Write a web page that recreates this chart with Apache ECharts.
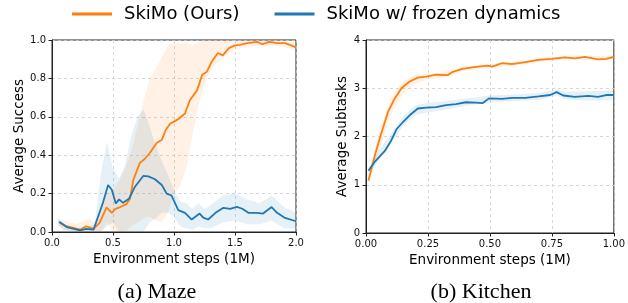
<!DOCTYPE html>
<html lang="en">
<head>
    <meta charset="UTF-8">
    <title>SkiMo ablation</title>
    <script src="https://cdn.jsdelivr.net/npm/echarts@6/dist/echarts.min.js"></script>
    <style>
        html, body { margin: 0; padding: 0; background: #fff; }
        #main { width: 628px; height: 303px; }
    </style>
</head>
<body>
<div id="main"></div>
<script>
    // 图例名称
    const legendNames = ['SkiMo (Ours)', 'SkiMo w/ frozen dynamics'];

    // (a) Maze 曲线
    const mazeOursX = [0.06, 0.12, 0.23, 0.28, 0.34, 0.39, 0.447, 0.49, 0.52, 0.56, 0.61, 0.64, 0.666, 0.72, 0.76, 0.80, 0.858, 0.90, 0.934, 0.97, 1.0, 1.04, 1.09, 1.13, 1.19, 1.23, 1.27, 1.31, 1.36, 1.40, 1.45, 1.50, 1.54, 1.60, 1.68, 1.725, 1.78, 1.845, 1.91, 1.95, 2.0];
    const mazeOursY = [0.048, 0.03, 0.012, 0.03, 0.016, 0.047, 0.128, 0.10, 0.12, 0.13, 0.145, 0.175, 0.27, 0.36, 0.38, 0.41, 0.464, 0.48, 0.534, 0.565, 0.575, 0.59, 0.617, 0.686, 0.739, 0.818, 0.835, 0.888, 0.932, 0.92, 0.958, 0.972, 0.975, 0.984, 0.99, 0.978, 0.99, 0.984, 0.984, 0.975, 0.962];
    const mazeFrozenX = [0.06, 0.12, 0.23, 0.28, 0.34, 0.42, 0.46, 0.49, 0.523, 0.55, 0.583, 0.633, 0.68, 0.748, 0.79, 0.844, 0.90, 0.94, 0.98, 1.035, 1.09, 1.145, 1.21, 1.24, 1.28, 1.34, 1.405, 1.46, 1.515, 1.56, 1.61, 1.68, 1.73, 1.80, 1.845, 1.91, 2.0];
    const mazeFrozenY = [0.053, 0.026, 0.009, 0.016, 0.012, 0.157, 0.245, 0.22, 0.149, 0.17, 0.152, 0.175, 0.236, 0.292, 0.29, 0.275, 0.245, 0.2, 0.19, 0.114, 0.1, 0.065, 0.096, 0.075, 0.065, 0.10, 0.126, 0.121, 0.131, 0.121, 0.10, 0.10, 0.096, 0.13, 0.10, 0.073, 0.056];

    // (a) Maze 阴影区间
    const mazeBandX = [0.05, 0.1, 0.2, 0.3, 0.35, 0.4, 0.45, 0.5, 0.55, 0.6, 0.65, 0.7, 0.75, 0.8, 0.85, 0.9, 0.95, 1.0, 1.05, 1.1, 1.15, 1.2, 1.25, 1.3, 1.4, 1.5, 1.6, 1.7, 1.8, 1.9, 2.0];
    const mazeOursLow = [0.03, 0.0, 0.0, 0.0, 0.0, 0.0, 0.05, 0.0, 0.0, 0.0, 0.03, 0.05, 0.07, 0.08, 0.06, 0.05, 0.1, 0.2, 0.24, 0.33, 0.5, 0.66, 0.77, 0.84, 0.91, 0.95, 0.965, 0.97, 0.97, 0.965, 0.945];
    const mazeOursHigh = [0.07, 0.06, 0.04, 0.07, 0.05, 0.1, 0.2, 0.22, 0.27, 0.33, 0.42, 0.55, 0.68, 0.8, 0.85, 0.91, 0.97, 0.99, 0.98, 0.99, 0.97, 0.99, 1.0, 1.0, 1.0, 0.995, 1.0, 1.0, 1.0, 0.995, 0.98];
    const mazeFrozenLow = [0.04, 0.01, 0.0, 0.0, 0.0, 0.0, 0.03, 0.05, 0.0, 0.0, 0.0, 0.0, 0.0, 0.05, 0.07, 0.1, 0.1, 0.08, 0.03, 0.02, 0.01, 0.03, 0.02, 0.02, 0.05, 0.06, 0.04, 0.04, 0.06, 0.02, 0.02];
    const mazeFrozenHigh = [0.07, 0.04, 0.02, 0.03, 0.04, 0.3, 0.47, 0.33, 0.28, 0.35, 0.5, 0.6, 0.64, 0.55, 0.45, 0.37, 0.3, 0.22, 0.16, 0.15, 0.12, 0.15, 0.12, 0.14, 0.19, 0.2, 0.17, 0.15, 0.19, 0.13, 0.1];

    // (b) Kitchen 曲线
    const kitchenOursX = [0.01, 0.036, 0.063, 0.089, 0.116, 0.143, 0.176, 0.209, 0.243, 0.283, 0.33, 0.35, 0.389, 0.436, 0.489, 0.509, 0.549, 0.589, 0.643, 0.696, 0.749, 0.803, 0.843, 0.883, 0.936, 0.969, 1.0];
    const kitchenOursY = [1.085, 1.61, 2.09, 2.51, 2.79, 3.0, 3.14, 3.22, 3.24, 3.28, 3.27, 3.34, 3.40, 3.44, 3.47, 3.45, 3.52, 3.5, 3.54, 3.59, 3.61, 3.64, 3.62, 3.65, 3.6, 3.61, 3.65];
    const kitchenFrozenX = [0.01, 0.036, 0.076, 0.1, 0.123, 0.149, 0.176, 0.209, 0.243, 0.283, 0.323, 0.363, 0.403, 0.443, 0.47, 0.496, 0.549, 0.589, 0.643, 0.696, 0.743, 0.769, 0.796, 0.843, 0.896, 0.936, 0.969, 1.0];
    const kitchenFrozenY = [1.29, 1.48, 1.7, 1.9, 2.15, 2.3, 2.44, 2.58, 2.6, 2.61, 2.65, 2.67, 2.71, 2.7, 2.69, 2.79, 2.78, 2.8, 2.8, 2.83, 2.86, 2.92, 2.85, 2.82, 2.84, 2.82, 2.86, 2.86];

    // (b) Kitchen 阴影区间
    const kitchenBandX = [0.01, 0.05, 0.1, 0.15, 0.2, 0.25, 0.3, 0.4, 0.5, 0.6, 0.7, 0.77, 0.8, 0.9, 1.0];
    const kitchenOursLow = [1.0, 1.65, 2.45, 2.9, 3.1, 3.18, 3.22, 3.37, 3.42, 3.47, 3.55, 3.58, 3.6, 3.58, 3.6];
    const kitchenOursHigh = [1.2, 2.05, 2.8, 3.15, 3.28, 3.3, 3.33, 3.45, 3.5, 3.55, 3.63, 3.66, 3.68, 3.67, 3.68];
    const kitchenFrozenLow = [1.22, 1.5, 1.85, 2.22, 2.45, 2.5, 2.54, 2.63, 2.71, 2.73, 2.76, 2.85, 2.77, 2.74, 2.76];
    const kitchenFrozenHigh = [1.35, 1.7, 2.05, 2.42, 2.65, 2.7, 2.72, 2.78, 2.85, 2.87, 2.9, 2.98, 2.93, 2.94, 2.96];

    const ORANGE = '#ff7f0e';
    const BLUE = '#1f77b4';
    const FONT = 'DejaVu Sans';

    function pairs(xs, ys) {
        return xs.map((x, i) => [x, ys[i]]);
    }

    function lineSeries(name, xs, ys, color, idx) {
        return {
            name: name,
            type: 'line',
            xAxisIndex: idx,
            yAxisIndex: idx,
            data: pairs(xs, ys),
            symbol: 'none',
            smooth: false,
            color: color,
            lineStyle: {width: 1.8, color: color},
            z: 3
        };
    }

    // 用多边形画均值上下的阴影带
    function bandSeries(xs, lo, hi, color, idx) {
        return {
            type: 'custom',
            xAxisIndex: idx,
            yAxisIndex: idx,
            silent: true,
            clip: true,
            data: [[xs[0], lo[0]]],
            z: 1,
            renderItem(params, api) {
                let pts = [];
                for (let i = 0; i < xs.length; i++) pts.push(api.coord([xs[i], hi[i]]));
                for (let i = xs.length - 1; i >= 0; i--) pts.push(api.coord([xs[i], lo[i]]));
                return {
                    type: 'polygon',
                    shape: {points: pts},
                    style: {fill: color, opacity: 0.11}
                };
            }
        };
    }

    function xAxisCfg(idx, max, interval, digits) {
        return {
            type: 'value', gridIndex: idx, min: 0, max: max, interval: interval,
            name: 'Environment steps (1M)', nameLocation: 'middle', nameGap: 18,
            nameTextStyle: {fontFamily: FONT, fontSize: 13.5, color: '#000'},
            axisLine: {show: true, onZero: false, lineStyle: {color: '#222', width: 1}},
            axisTick: {show: true, length: 3.5, lineStyle: {color: '#222'}},
            axisLabel: {fontFamily: FONT, fontSize: 10, color: '#111', margin: 6,
                formatter: v => v.toFixed(digits)},
            splitLine: {show: true, lineStyle: {type: [3, 3], color: '#cfcfcf', width: 0.8}}
        };
    }

    function yAxisCfg(idx, name, max, interval, digits, gap) {
        return {
            type: 'value', gridIndex: idx, min: 0, max: max, interval: interval,
            name: name, nameLocation: 'middle', nameGap: gap, nameRotate: 90,
            nameTextStyle: {fontFamily: FONT, fontSize: 13.5, color: '#000'},
            axisLine: {show: true, onZero: false, lineStyle: {color: '#222', width: 1}},
            axisTick: {show: true, length: 3.5, lineStyle: {color: '#222'}},
            axisLabel: {fontFamily: FONT, fontSize: 10, color: '#111', margin: 6,
                formatter: v => v.toFixed(digits)},
            splitLine: {show: true, lineStyle: {type: [3, 3], color: '#cfcfcf', width: 0.8}}
        };
    }

    let chart = echarts.init(document.getElementById('main'), null, {renderer: 'canvas'});

    const option = {
        backgroundColor: '#fff',
        animation: false,
        legend: {
            data: legendNames,
            left: 67,
            top: 0,
            itemWidth: 40,
            itemHeight: 14,
            itemGap: 35,
            icon: 'path://M0,0 L40,0 L40,3 L0,3 Z',
            textStyle: {fontFamily: FONT, fontSize: 18, color: '#000', padding: [0, 0, 0, 7]}
        },
        grid: [
            {left: 52, top: 40, width: 244, height: 192, show: true, borderColor: '#222', borderWidth: 1, backgroundColor: 'transparent'},
            {left: 366, top: 40, width: 250, height: 193, show: true, borderColor: '#222', borderWidth: 1, backgroundColor: 'transparent'}
        ],
        xAxis: [
            xAxisCfg(0, 2, 0.5, 1),
            xAxisCfg(1, 1, 0.25, 2)
        ],
        yAxis: [
            yAxisCfg(0, 'Average Success', 1, 0.2, 1, 26),
            yAxisCfg(1, 'Average Subtasks', 4, 1, 0, 17)
        ],
        graphic: [
            {type: 'text', x: 157, y: 292, style: {text: '(a) Maze', font: '22px "Liberation Serif"', fill: '#000', align: 'center', verticalAlign: 'middle'}},
            {type: 'text', x: 481, y: 292, style: {text: '(b) Kitchen', font: '22px "Liberation Serif"', fill: '#000', align: 'center', verticalAlign: 'middle'}}
        ],
        series: [
            bandSeries(mazeBandX, mazeOursLow, mazeOursHigh, ORANGE, 0),
            bandSeries(mazeBandX, mazeFrozenLow, mazeFrozenHigh, BLUE, 0),
            bandSeries(kitchenBandX, kitchenOursLow, kitchenOursHigh, ORANGE, 1),
            bandSeries(kitchenBandX, kitchenFrozenLow, kitchenFrozenHigh, BLUE, 1),
            lineSeries(legendNames[0], mazeOursX, mazeOursY, ORANGE, 0),
            lineSeries(legendNames[1], mazeFrozenX, mazeFrozenY, BLUE, 0),
            lineSeries(legendNames[0], kitchenOursX, kitchenOursY, ORANGE, 1),
            lineSeries(legendNames[1], kitchenFrozenX, kitchenFrozenY, BLUE, 1)
        ]
    };

    chart.setOption(option);
</script>
</body>
</html>
